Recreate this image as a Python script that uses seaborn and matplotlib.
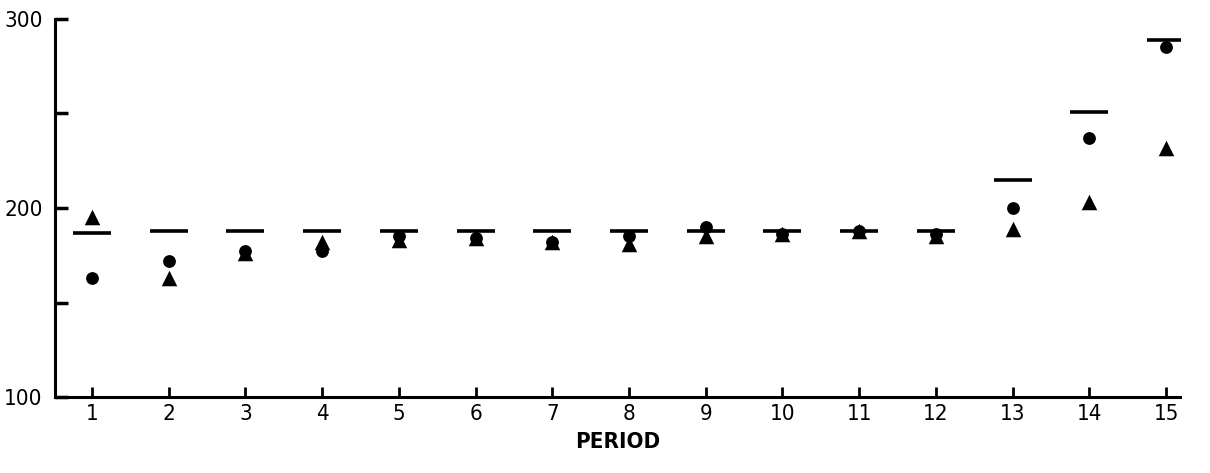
import matplotlib
matplotlib.use("Agg")
import matplotlib.pyplot as plt
import seaborn as sns
import pandas as pd

periods = list(range(1, 16))
line_values = [187, 188, 188, 188, 188, 188, 188, 188, 188, 188, 188, 188, 215, 251, 289]
circle_values = [163, 172, 177, 177, 185, 184, 182, 185, 190, 186, 188, 186, 200, 237, 285]
triangle_values = [195, 163, 176, 182, 183, 184, 182, 181, 185, 186, 188, 185, 189, 203, 232]
y_ticks = [100, 150, 200, 250, 300]
y_tick_labels = ["100", "", "200", "", "300"]

sns.set_style("white")
plt.rcParams['font.family'] = ['DejaVu Sans']
plt.rcParams['font.stretch'] = 'condensed'
plt.rcParams['text.color'] = 'black'
plt.rcParams['axes.labelcolor'] = 'black'

df = pd.DataFrame({"period": periods, "line": line_values,
                   "circle": circle_values, "triangle": triangle_values})

fig = plt.figure(figsize=(12.1, 4.73), dpi=100)
ax = fig.add_axes([55 / 1210, 1 - 397 / 473, (1180 - 55) / 1210, (397 - 19) / 473])

sns.scatterplot(data=df, x="period", y="line", marker="_", s=760, color="black",
                linewidth=2.6, ax=ax, zorder=2)
sns.scatterplot(data=df, x="period", y="circle", marker="o", s=85, color="black",
                edgecolor="black", linewidth=0, ax=ax, zorder=3)
sns.scatterplot(data=df, x="period", y="triangle", marker="^", s=125, color="black",
                edgecolor="black", linewidth=0, ax=ax, zorder=3)

ax.set_xlim(0.52, 15.18)
ax.set_ylim(100, 300)
ax.set_xticks(periods)
ax.set_xticklabels([str(p) for p in periods], fontsize=16, color="black",
                   fontstretch="condensed")
ax.set_yticks(y_ticks)
ax.set_yticklabels(y_tick_labels, fontsize=16, color="black", fontstretch="condensed")

ax.tick_params(axis="x", bottom=True, direction="in", length=7, width=2, pad=5, colors="black")
ax.tick_params(axis="y", left=True, direction="in", length=9, width=2.5, pad=9, colors="black")

for side in ["top", "right"]:
    ax.spines[side].set_visible(False)
for side in ["left", "bottom"]:
    ax.spines[side].set_linewidth(2.2)
    ax.spines[side].set_color("black")

ax.set_xlabel("PERIOD", fontsize=16, fontweight="bold", labelpad=6, color="black",
              fontstretch="condensed")
ax.set_ylabel("")
ax.grid(False)

fig.savefig("out.png", dpi=100)
